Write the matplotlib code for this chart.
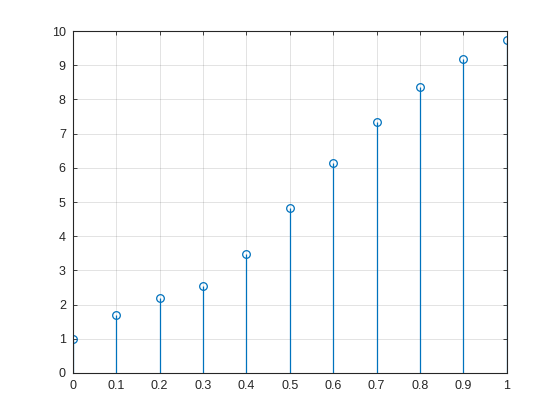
import matplotlib
matplotlib.use("Agg")
import matplotlib.pyplot as plt

x = [0, 0.1, 0.2, 0.3, 0.4, 0.5, 0.6, 0.7, 0.8, 0.9, 1.0]
y = [1.0, 1.69, 2.2, 2.54, 3.48, 4.83, 6.13, 7.34, 8.36, 9.18, 9.73]

xticks = [0, 0.1, 0.2, 0.3, 0.4, 0.5, 0.6, 0.7, 0.8, 0.9, 1]
xticklabels = ["0", "0.1", "0.2", "0.3", "0.4", "0.5", "0.6", "0.7", "0.8", "0.9", "1"]
yticks = list(range(0, 11))

plt.rcParams['font.family'] = ['Liberation Sans', 'DejaVu Sans']

fig = plt.figure(figsize=(5.6, 4.2), dpi=100)
ax = fig.add_axes([0.13, 0.112, 0.775, 0.814])

col = "#0072BD"
markerline, stemlines, baseline = ax.stem(x, y, basefmt=" ")
plt.setp(stemlines, color=col, linewidth=0.9)
plt.setp(markerline, color=col, marker="o", markersize=5.5,
         markerfacecolor="none", markeredgewidth=0.9)

ax.set_xlim(0, 1)
ax.set_ylim(0, 10)
ax.set_xticks(xticks)
ax.set_xticklabels(xticklabels)
ax.set_yticks(yticks)

ax.grid(True, color="#262626", alpha=0.15, linewidth=0.6)
ax.set_axisbelow(True)
for s in ax.spines.values():
    s.set_color("#262626")
    s.set_linewidth(0.8)
ax.tick_params(direction="in", length=3, width=0.6, colors="#262626",
               labelsize=9, top=True, right=True, pad=5)

fig.savefig("out.png", dpi=100)
